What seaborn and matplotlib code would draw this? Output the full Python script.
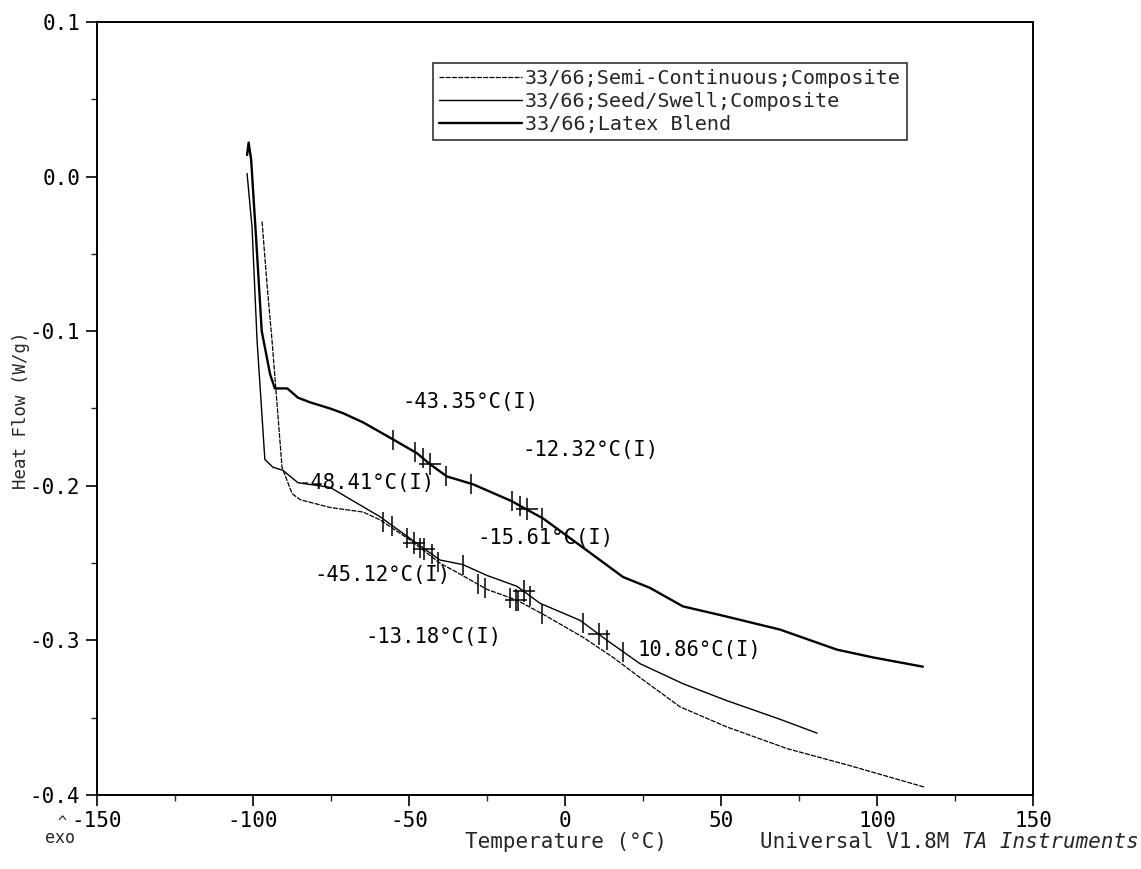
import numpy as np
import pandas as pd
import matplotlib
matplotlib.use("Agg")
import matplotlib.pyplot as plt
import seaborn as sns

# ---------------- data ----------------
series_names = ["33/66;Semi-Continuous;Composite",
                "33/66;Seed/Swell;Composite",
                "33/66;Latex Blend"]

semi_T = [-97.1, -95.5, -93.9, -90.7, -87.5, -84.9, -75.3, -64.7, -59.3, -49.7,
          -40.1, -34.6, -25.0, -15.4, -7.1, 5.8, 15.4, 24.0, 36.9, 51.9, 71.2,
          91.3, 115.4]
semi_HF = [-0.029, -0.070, -0.106, -0.188, -0.205, -0.209, -0.214, -0.217, -0.222,
           -0.235, -0.250, -0.256, -0.267, -0.274, -0.283, -0.298, -0.311, -0.324,
           -0.343, -0.356, -0.370, -0.381, -0.395]

seed_T = [-101.9, -100.3, -98.7, -96.2, -93.6, -90.4, -85.6, -75.3, -59.3, -49.7,
          -40.1, -32.7, -25.0, -15.4, -8.0, 4.8, 13.5, 24.0, 37.8, 51.9, 68.9, 80.8]
seed_HF = [0.002, -0.033, -0.106, -0.183, -0.188, -0.190, -0.198, -0.201, -0.220,
           -0.234, -0.248, -0.251, -0.258, -0.265, -0.276, -0.287, -0.300, -0.315,
           -0.328, -0.339, -0.351, -0.360]

latex_T = [-101.9, -101.4, -100.6, -99.0, -97.2, -94.5, -93.0, -89.0, -85.6, -81.7,
           -75.3, -71.2, -64.7, -55.1, -47.4, -43.3, -37.8, -29.5, -17.0, -13.5,
           -7.1, 5.8, 18.6, 27.2, 37.8, 50.6, 68.9, 87.2, 98.7, 114.7]
latex_HF = [0.014, 0.022, 0.011, -0.040, -0.100, -0.128, -0.137, -0.137, -0.143,
            -0.146, -0.150, -0.153, -0.159, -0.170, -0.179, -0.186, -0.194, -0.199,
            -0.210, -0.214, -0.221, -0.240, -0.259, -0.266, -0.278, -0.284, -0.293,
            -0.306, -0.311, -0.317]

# analysis markers (temperatures)
latex_bars = [-55.0, -48.0, -45.5, -38.0, -30.0, -17.0, -14.5, -7.5]
latex_cross = [-43.35, -12.32]
semi_bars = [-58.3, -50.6, -46.5, -40.7, -27.9, -25.6, -17.6, -15.0, -7.4]
semi_cross = [-48.41, -15.61]
seed_bars = [-55.4, -42.6, -32.7, -11.2, 5.8, 13.5, 18.6]
seed_cross = [-45.12, -13.18, 10.86]

# annotation texts and their anchor points (left edge, vertical centre)
ann_text = ["-43.35°C(I)", "-12.32°C(I)", "-48.41°C(I)", "-15.61°C(I)",
            "-45.12°C(I)", "-13.18°C(I)", "10.86°C(I)"]
ann_T = [-52.2, -13.8, -85.6, -28.2, -80.4, -64.1, 23.1]
ann_HF = [-0.146, -0.177, -0.198, -0.234, -0.258, -0.298, -0.306]

x_ticks = [-150, -100, -50, 0, 50, 100, 150]
y_ticks = [0.1, 0.0, -0.1, -0.2, -0.3, -0.4]

# ---------------- plotting ----------------
sns.set_style("ticks")
plt.rcParams['font.family'] = ['DejaVu Sans Mono', 'DejaVu Sans']
plt.rcParams['axes.unicode_minus'] = False

W, H = 1141, 869
fig = plt.figure(figsize=(W / 100, H / 100), dpi=100)
ax = fig.add_axes([97 / W, 1 - 795 / H, 936 / W, 773 / H])

df = pd.concat([
    pd.DataFrame({"T": semi_T, "HF": semi_HF, "s": series_names[0]}),
    pd.DataFrame({"T": seed_T, "HF": seed_HF, "s": series_names[1]}),
    pd.DataFrame({"T": latex_T, "HF": latex_HF, "s": series_names[2]}),
])

styles = {
    series_names[0]: dict(lw=0.9, ls=(0, (4, 1))),
    series_names[1]: dict(lw=1.0, ls="-"),
    series_names[2]: dict(lw=1.7, ls="-"),
}
for name in series_names:
    sub = df[df["s"] == name]
    sns.lineplot(data=sub, x="T", y="HF", ax=ax, color="black", sort=False,
                 estimator=None, label=name, linewidth=styles[name]["lw"],
                 linestyle=styles[name]["ls"])


def marks(Ts, curveT, curveHF, marker, ms):
    Ts = np.asarray(Ts)
    ys = np.interp(Ts, curveT, curveHF)
    ax.plot(Ts, ys, linestyle="none", marker=marker, markersize=ms,
            markeredgewidth=1.1, color="black")


marks(latex_bars, latex_T, latex_HF, "|", 14)
marks(latex_cross, latex_T, latex_HF, "+", 16)
marks(semi_bars, semi_T, semi_HF, "|", 14)
marks(semi_cross, semi_T, semi_HF, "+", 16)
marks(seed_bars, seed_T, seed_HF, "|", 14)
marks(seed_cross, seed_T, seed_HF, "+", 16)

for t, xx, yy in zip(ann_text, ann_T, ann_HF):
    ax.text(xx, yy, t, fontsize=14.8, ha="left", va="center", color="black")

ax.set_xlim(-150, 150)
ax.set_ylim(-0.4, 0.1)
ax.set_xticks(x_ticks)
ax.set_xticklabels([str(v) for v in x_ticks])
ax.set_yticks(y_ticks)
ax.set_yticklabels([f"{v:.1f}" for v in y_ticks])
ax.set_xticks(np.arange(-125, 150, 50), minor=True)
ax.set_yticks(np.arange(-0.35, 0.1, 0.1), minor=True)
ax.tick_params(axis="both", which="major", direction="out", length=8, width=1.2,
               labelsize=15, colors="black")
ax.tick_params(axis="both", which="minor", direction="out", length=4, width=1.0)
ax.tick_params(axis="y", which="major", pad=4)
for sp in ax.spines.values():
    sp.set_visible(True)
    sp.set_linewidth(1.4)
    sp.set_color("black")

ax.set_xlabel("")
ax.set_ylabel("")
fig.text(21 / W, 1 - 410 / H, "Heat Flow (W/g)", rotation=90, ha="center",
         va="center", fontsize=12.5)

leg = ax.legend(loc="upper left", bbox_to_anchor=(0.359, 0.947), borderaxespad=0,
                frameon=True, fancybox=False, fontsize=14.5, handlelength=4.1,
                handletextpad=0.15, labelspacing=0.2, borderpad=0.3)
leg.get_frame().set_edgecolor("black")
leg.get_frame().set_linewidth(1.2)
for lh in leg.get_lines():
    lh.set_color("black")

fig.text(566 / W, 1 - 842 / H, "Temperature (°C)", ha="center", va="center",
         fontsize=15)
t_it = fig.text(1139 / W, 1 - 842 / H, "TA Instruments", ha="right", va="center",
                fontsize=15, style="italic")
fig.canvas.draw()
bb = t_it.get_window_extent()
fig.text(bb.x0 / W, 1 - 842 / H, "Universal V1.8M ", ha="right", va="center",
         fontsize=15)
fig.text(62 / W, 1 - 822 / H, "^", ha="center", va="center", fontsize=11)
fig.text(60 / W, 1 - 838 / H, "exo", ha="center", va="center", fontsize=12)

fig.savefig("out.png", dpi=100, facecolor="white")
